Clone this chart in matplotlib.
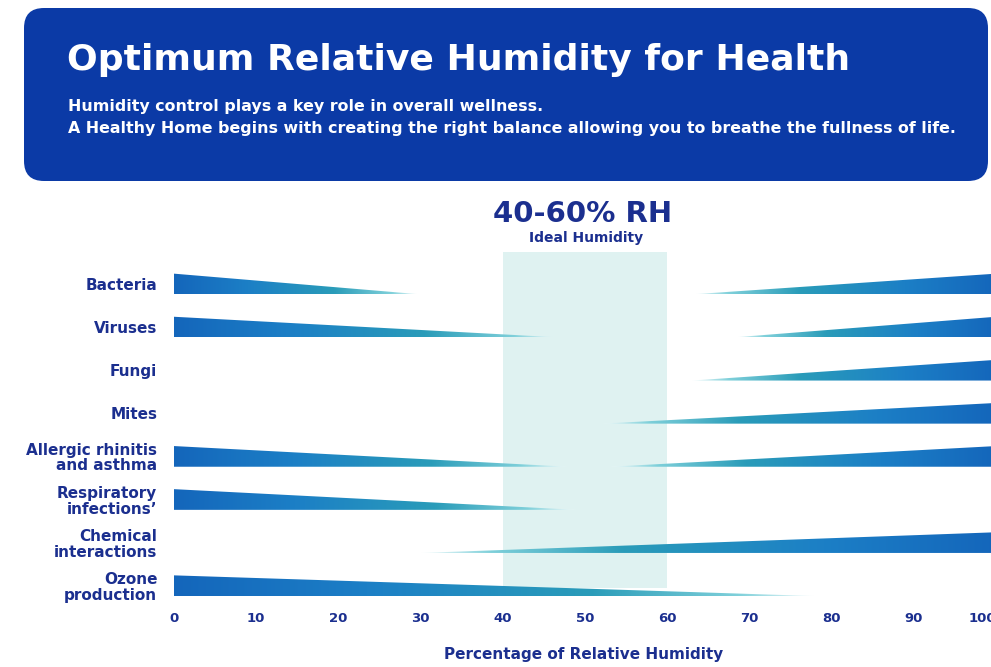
import numpy as np
import matplotlib
matplotlib.use('Agg')
import matplotlib.pyplot as plt
import matplotlib.transforms as mtransforms
from matplotlib.patches import FancyBboxPatch, Polygon, Rectangle
from matplotlib.colors import LinearSegmentedColormap

# chart data
categories = ['Bacteria', 'Viruses', 'Fungi', 'Mites',
              'Allergic rhinitis\nand asthma', 'Respiratory\ninfections\u2019',
              'Chemical\ninteractions', 'Ozone\nproduction']
# risk falls from 0 % RH to this value (None = no falling wedge)
falls_until = [30, 47, None, None, 48, 49, None, 78]
# risk rises from this value to 100 % RH (None = no rising wedge)
rises_from = [63, 68, 63, 52, 53, None, 30, None]
ideal_range = (40, 60)
x_ticks = [0, 10, 20, 30, 40, 50, 60, 70, 80, 90, 100]

NAVY = '#1b2f8f'
BOX = '#0b3aa6'
FONT = 'DejaVu Sans'

wedge_cmap = LinearSegmentedColormap.from_list(
    'wedge', [(0.0, '#f2fbfc'), (0.12, '#7fd0da'), (0.35, '#2a9cb9'),
              (0.7, '#1c7fc6'), (1.0, '#1466bb')])

W, H = 991, 667
fig = plt.figure(figsize=(W / 100, H / 100), dpi=100)

# overlay in pixel units for the header and free texts
bg = fig.add_axes([0, 0, 1, 1])
bg.set_xlim(0, W)
bg.set_ylim(H, 0)
bg.axis('off')
bg.add_patch(FancyBboxPatch((24, 8), 964, 173,
                            boxstyle='round,pad=0,rounding_size=20',
                            fc=BOX, ec='none'))
bg.text(67, 60, 'Optimum Relative Humidity for Health', color='white',
        fontsize=26, fontweight='bold', family=FONT, va='center', ha='left')
bg.text(68, 106, 'Humidity control plays a key role in overall wellness.',
        color='white', fontsize=11.4, fontweight='bold', family=FONT,
        va='center', ha='left')
bg.text(68, 128, 'A Healthy Home begins with creating the right balance allowing '
        'you to breathe the fullness of life.',
        color='white', fontsize=11.4, fontweight='bold', family=FONT,
        va='center', ha='left')

# main chart: 0 % at x=174 px, 100 % at x=996 px
ax_top, ax_bot = 245, 605
ax = fig.add_axes([174 / W, (H - ax_bot) / H, 822 / W, (ax_bot - ax_top) / H])
ax.patch.set_alpha(0)
row_px = 43.1
for s in ax.spines.values():
    s.set_visible(False)

ax.add_patch(Rectangle((ideal_range[0], -0.74), ideal_range[1] - ideal_range[0], 7.8,
                       fc='#dff2f1', ec='none', zorder=0))

half = 0.24
grad = np.linspace(0, 1, 256).reshape(1, -1)


def wedge(x0, x1, y, falling):
    yt, yb = y - half, y + half
    if falling:
        pts = [(x0, yb), (x0, yt), (x1, yb)]
        img = grad[:, ::-1]
    else:
        pts = [(x0, yb), (x1, yt), (x1, yb)]
        img = grad
    poly = Polygon(pts, closed=True, fc='none', ec='none', transform=ax.transData)
    ax.add_patch(poly)
    im = ax.imshow(img, cmap=wedge_cmap, extent=[x0, x1, yb, yt],
                   aspect='auto', interpolation='bilinear', zorder=2)
    im.set_clip_path(poly)


for i, (f, r) in enumerate(zip(falls_until, rises_from)):
    if f is not None:
        wedge(0, f, i, True)
    if r is not None:
        wedge(r, 100, i, False)

ax.set_xlim(0, 100)
ax.set_ylim((ax_bot - 284) / row_px, (ax_top - 284) / row_px)

ax.set_yticks(range(len(categories)))
ax.set_yticklabels(categories, fontsize=11, fontweight='bold', family=FONT,
                   color=NAVY, linespacing=1.05, ha='right')
ax.set_xticks(x_ticks)
ax.set_xticklabels([str(t) for t in x_ticks], fontsize=9.5, fontweight='bold',
                   family=FONT, color=NAVY)
ax.tick_params(axis='y', length=0, pad=12)
ax.tick_params(axis='x', length=0, pad=5)

# the last label sits at the figure edge; nudge it left as in the reference
last = ax.get_xticklabels()[-1]
last.set_transform(last.get_transform() +
                   mtransforms.ScaledTranslation(-10 / 72, 0, fig.dpi_scale_trans))

bg.text(583, 214, '40-60% RH', color=NAVY, fontsize=21, fontweight='bold',
        family=FONT, ha='center', va='center')
bg.text(586, 238, 'Ideal Humidity', color=NAVY, fontsize=10, fontweight='bold',
        family=FONT, ha='center', va='center')
bg.text(584, 655, 'Percentage of Relative Humidity', color=NAVY, fontsize=11,
        fontweight='bold', family=FONT, ha='center', va='center')

fig.savefig('out.png', dpi=100)
